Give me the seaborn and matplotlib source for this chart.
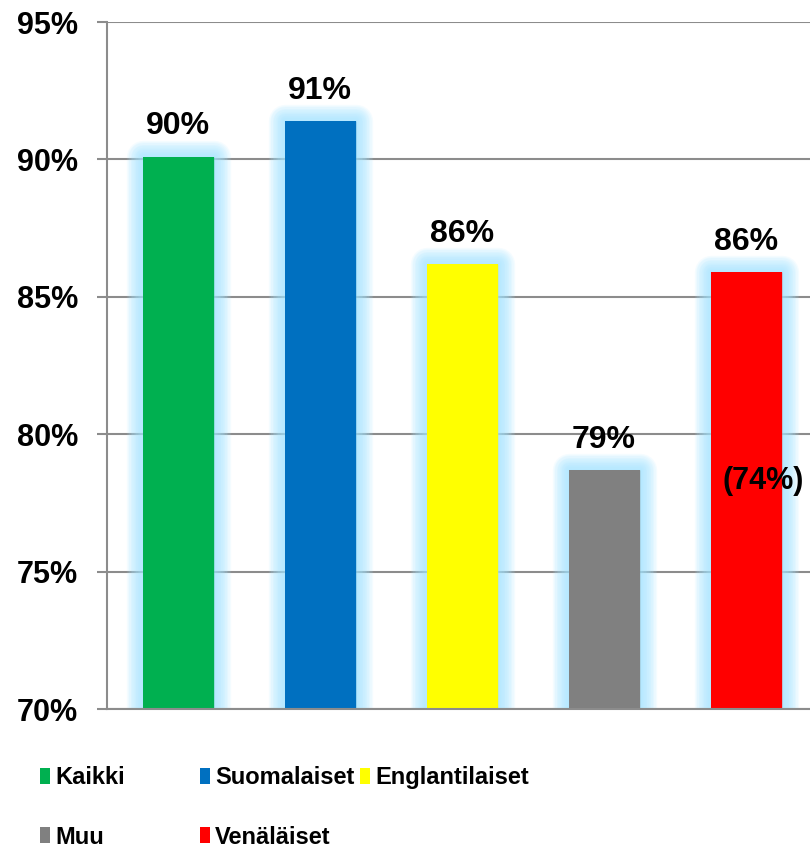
import matplotlib
matplotlib.use("Agg")
import matplotlib.pyplot as plt
import matplotlib.patheffects as pe
from matplotlib.patches import Patch
import seaborn as sns
import pandas as pd

# ── data ────────────────────────────────────────────
categories = ["Kaikki", "Suomalaiset", "Englantilaiset", "Muu", "Venäläiset"]
values = [90.1, 91.4, 86.2, 78.7, 85.9]
labels = ["90%", "91%", "86%", "79%", "86%"]
colors = ["#00b050", "#0070c0", "#ffff00", "#808080", "#ff0000"]
extra_label = "(74%)"
extra_pos = (4.12, 78.3)
yticks = [70, 75, 80, 85, 90, 95]

# ── style ───────────────────────────────────────────
sns.set_theme(style="white")
plt.rcParams["font.family"] = ["Liberation Sans", "DejaVu Sans"]
plt.rcParams["font.weight"] = "bold"
plt.rcParams["text.color"] = "black"
plt.rcParams["ytick.labelcolor"] = "black"

df = pd.DataFrame({"cat": categories, "val": values})

fig = plt.figure(figsize=(8.1, 8.51), dpi=100)
ax = fig.add_axes([107 / 810, 142 / 851, 703 / 810, 687 / 851])

sns.barplot(data=df, x="cat", y="val", hue="cat", palette=colors,
            width=0.5, legend=False, saturation=1, linewidth=0, ax=ax)

# soft light-blue glow around each bar: many thin stacked strokes
glow = "#a3e4ff"
glow_layers = [pe.Stroke(linewidth=lw, foreground=glow, alpha=0.11,
                         joinstyle="round")
               for lw in range(24, 0, -2)]
for bar in ax.patches:
    bar.set_edgecolor("none")
    bar.set_path_effects(glow_layers + [pe.Normal()])
    bar.set_zorder(2)

for i, (v, lab) in enumerate(zip(values, labels)):
    ax.annotate(lab, (i, v), xytext=(0, 11), textcoords="offset points",
                ha="center", va="bottom", fontsize=23, fontweight="bold",
                color="black", zorder=5)
ax.text(extra_pos[0], extra_pos[1], extra_label, ha="center", va="center",
        fontsize=22, fontweight="bold", color="black", zorder=5)

ax.set_ylim(70, 95)
ax.set_xlim(-0.5, -0.5 + 703 / 142)
ax.set_yticks(yticks)
ax.set_yticklabels([f"{t}%" for t in yticks], fontsize=22, fontweight="bold",
                   color="black")
ax.set_xticks([])
ax.set_xlabel("")
ax.set_ylabel("")
ax.yaxis.grid(True, color="#8c8c8c", linewidth=1.5)
ax.set_axisbelow(True)
ax.tick_params(axis="y", which="major", direction="out", length=7,
               width=1.5, color="#8c8c8c", pad=14, left=True)
for side in ["top", "right"]:
    ax.spines[side].set_visible(False)
for side in ["left", "bottom"]:
    ax.spines[side].set_color("#8c8c8c")
    ax.spines[side].set_linewidth(1.5)

# ── legend: three columns placed like the original ──
columns = [[0, 3], [1, 4], [2]]
col_x = [40, 200, 360]
leg_font = {"family": ["Liberation Sans", "DejaVu Sans"],
            "weight": "bold", "size": 17}
for idxs, x in zip(columns, col_x):
    handles = [Patch(facecolor=colors[i], edgecolor="none") for i in idxs]
    fig.legend(handles, [categories[i] for i in idxs],
               loc="upper left", bbox_to_anchor=(x / 810, 85 / 851),
               bbox_transform=fig.transFigure, frameon=False,
               prop=leg_font, handlelength=0.42, handleheight=0.68,
               handletextpad=0.22, labelspacing=1.55, borderpad=0,
               borderaxespad=0, labelcolor="black")

fig.savefig("out.png", dpi=100)
